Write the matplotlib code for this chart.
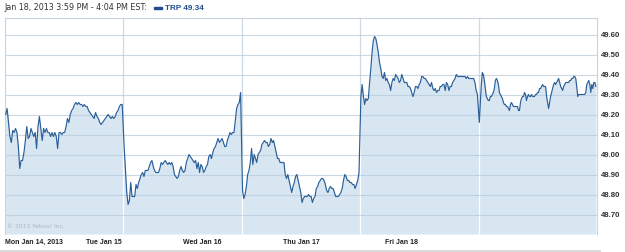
"""Intraday price chart for TRP, week of Jan 14 2013."""

import matplotlib
import numpy as np

matplotlib.use("Agg")
import matplotlib.pyplot as plt

TICKER = "TRP"
LAST_PRICE = "49.34"
HEADER = "Jan 18, 2013 3:59 PM - 4:04 PM EST:"
COPYRIGHT = "\u00a9 2013 Yahoo! Inc."

DAY_LABELS = ["Mon Jan 14, 2013", "Tue Jan 15", "Wed Jan 16", "Thu Jan 17", "Fri Jan 18"]
Y_TICKS = [48.70, 48.80, 48.90, 49.00, 49.10, 49.20, 49.30, 49.40, 49.50, 49.60]

mon_prices = [
    49.20, 49.23, 49.16, 49.09, 49.06, 49.12, 49.11, 49.13, 49.11, 49.04,
    48.93, 48.97, 48.97, 49.01, 49.07, 49.14, 49.08, 49.09, 49.13, 49.11,
    49.09, 49.11, 49.03, 49.14, 49.19, 49.13, 49.07, 49.13, 49.11, 49.13,
    49.11, 49.11, 49.09, 49.11, 49.09, 49.11, 49.09, 49.03, 49.11, 49.11,
    49.10, 49.11, 49.11, 49.14, 49.18, 49.16, 49.20, 49.22, 49.23, 49.25,
    49.26, 49.25, 49.26, 49.25, 49.25, 49.24, 49.25, 49.24, 49.24, 49.22,
    49.21, 49.20, 49.19, 49.18, 49.21, 49.19, 49.18, 49.16, 49.15, 49.16,
    49.17, 49.18, 49.19, 49.20, 49.19, 49.18, 49.19, 49.18, 49.19, 49.21,
    49.22, 49.24, 49.25, 49.25,
]
tue_prices = [
    49.04, 48.92, 48.81, 48.75, 48.77, 48.86, 48.79, 48.79, 48.79, 48.85,
    48.83, 48.86, 48.88, 48.90, 48.91, 48.89, 48.92, 48.92, 48.92, 48.94,
    48.96, 48.97, 48.94, 48.92, 48.91, 48.91, 48.91, 48.93, 48.96, 48.95,
    48.96, 48.97, 48.96, 48.95, 48.96, 48.95, 48.96, 48.94, 48.90, 48.89,
    48.88, 48.89, 48.92, 48.94, 48.92, 48.91, 48.92, 48.96, 48.98, 49.00,
    48.99, 48.98, 48.97, 48.96, 48.97, 48.93, 48.96, 48.91, 48.95, 48.94,
    48.91, 48.92, 48.94, 48.95, 48.99, 49.00, 48.98, 49.01, 49.03, 49.04,
    49.06, 49.08, 49.06, 49.07, 49.08, 49.06, 49.04, 49.04, 49.07, 49.09,
    49.11, 49.10, 49.11, 49.11, 49.17, 49.23, 49.25, 49.26, 49.31,
]
wed_prices = [
    48.82, 48.78, 48.80, 48.84, 48.90, 48.92, 48.96, 49.03, 48.95, 49.00,
    48.98, 48.96, 49.00, 49.01, 49.02, 49.05, 49.06, 49.07, 49.06, 49.06,
    49.04, 49.05, 49.08, 49.06, 49.07, 49.04, 49.01, 48.98, 48.98, 48.96,
    48.96, 48.96, 48.96, 48.90, 48.88, 48.90, 48.87, 48.84, 48.81, 48.84,
    48.86, 48.89, 48.90, 48.87, 48.84, 48.81, 48.76, 48.78, 48.79, 48.79,
    48.79, 48.80, 48.79, 48.79, 48.76, 48.78, 48.79, 48.83, 48.84, 48.86,
    48.87, 48.88, 48.88, 48.87, 48.85, 48.82, 48.81, 48.83, 48.84, 48.83,
    48.83, 48.81, 48.79, 48.79, 48.79, 48.80, 48.81, 48.83, 48.87, 48.90,
    48.89, 48.87, 48.87, 48.86, 48.86, 48.85, 48.85, 48.83, 48.85, 48.87,
    48.91,
]
thu_prices = [
    49.29, 49.35, 49.29, 49.25, 49.28, 49.27, 49.28, 49.36, 49.43, 49.51,
    49.57, 49.59, 49.58, 49.55, 49.51, 49.46, 49.43, 49.39, 49.38, 49.41,
    49.37, 49.38, 49.36, 49.35, 49.32, 49.36, 49.38, 49.37, 49.40, 49.39,
    49.38, 49.36, 49.37, 49.40, 49.38, 49.36, 49.36, 49.36, 49.34, 49.34,
    49.33, 49.31, 49.29, 49.31, 49.34, 49.34, 49.33, 49.35, 49.36, 49.39,
    49.39, 49.38, 49.38, 49.37, 49.36, 49.35, 49.34, 49.36, 49.33, 49.32,
    49.33, 49.31, 49.32, 49.32, 49.34, 49.34, 49.35, 49.35, 49.32, 49.36,
    49.35, 49.32, 49.34, 49.34, 49.36, 49.37, 49.38, 49.40, 49.39, 49.39,
    49.39, 49.39, 49.39, 49.39, 49.39, 49.38, 49.39, 49.38, 49.38, 49.38,
    49.38, 49.38, 49.36, 49.32, 49.30,
]
fri_prices = [
    49.16, 49.26, 49.35, 49.41, 49.40, 49.37, 49.33, 49.29, 49.28, 49.27,
    49.27, 49.29, 49.29, 49.30, 49.31, 49.33, 49.37, 49.38, 49.37, 49.35,
    49.31, 49.30, 49.29, 49.28, 49.26, 49.25, 49.25, 49.24, 49.24, 49.23,
    49.22, 49.25, 49.26, 49.25, 49.24, 49.24, 49.24, 49.24, 49.24, 49.22,
    49.22, 49.26, 49.28, 49.29, 49.29, 49.31, 49.30, 49.27, 49.29, 49.30,
    49.29, 49.29, 49.30, 49.29, 49.29, 49.29, 49.30, 49.30, 49.31, 49.31,
    49.33, 49.33, 49.34, 49.35, 49.34, 49.34, 49.34, 49.29, 49.26, 49.23,
    49.26, 49.29, 49.31, 49.33, 49.35, 49.36, 49.35, 49.36, 49.37, 49.38,
    49.36, 49.34, 49.33, 49.32, 49.34, 49.35, 49.36, 49.36, 49.36, 49.36,
    49.37, 49.37, 49.38, 49.38, 49.39, 49.39, 49.38, 49.34, 49.29, 49.30,
    49.30, 49.30, 49.30, 49.30, 49.30, 49.30, 49.31, 49.35, 49.36, 49.37,
    49.35, 49.31, 49.35, 49.33, 49.36, 49.36, 49.34,
]

LINE_COLOR = "#2a5f9a"
FILL_COLOR = "#d7e6f1"
GRID_COLOR = "#b5cadb"
FRAME_COLOR = "#c8d3dd"
TEXT_COLOR = "#333333"
LABEL_FONT = "Liberation Sans"

W, H = 625, 252


def px_x(x):
    return x / W


def px_y(y):
    return 1 - y / H


days = [mon_prices, tue_prices, wed_prices, thu_prices, fri_prices]
xs = []
ys = []
for i, day in enumerate(days):
    xs.append(np.linspace(i + 0.006, i + 0.99, len(day)))
    ys.append(np.array(day))
x = np.concatenate(xs)
y = np.concatenate(ys)

fig = plt.figure(figsize=(W / 100, H / 100), dpi=100)
ax = fig.add_axes([px_x(5), px_y(234), px_x(592), 216 / H])

y_bottom, y_top = 48.6025, 49.6825
ax.set_xlim(0, 5)
ax.set_ylim(y_bottom, y_top)

# day separators: grey over white, white over the fill
for d in range(1, 5):
    ax.axvline(d, color="#cfd9e2", lw=0.9, zorder=0)
ax.fill_between(x, y_bottom, y, color=FILL_COLOR, lw=0, zorder=1)
for d in range(1, 5):
    ax.vlines(d, y_bottom, np.interp(d, x, y), color="white", lw=0.9, zorder=2)
for t in Y_TICKS:
    ax.axhline(t, color=GRID_COLOR, lw=0.8, alpha=0.7, zorder=2)
ax.plot(x, y, color=LINE_COLOR, lw=0.85, zorder=3)

ax.set_xticks([])
ax.yaxis.tick_right()
ax.set_yticks(Y_TICKS)
ax.set_yticklabels([f"{t:.2f}" for t in Y_TICKS])
ax.tick_params(axis="y", length=0, pad=2.5, labelcolor=TEXT_COLOR)
for lbl in ax.get_yticklabels():
    lbl.set_fontweight("bold")
    lbl.set_fontfamily(LABEL_FONT)
    lbl.set_fontsize(5.7)

for side in ["left", "right", "top"]:
    ax.spines[side].set_color(FRAME_COLOR)
    ax.spines[side].set_linewidth(0.8)
ax.spines["bottom"].set_visible(False)

ax.text(0.004, 0.035, COPYRIGHT, transform=ax.transAxes,
        fontsize=4.3, color="#aab7c2", va="center", ha="left")

# header
fig.text(px_x(4), px_y(8), HEADER, fontsize=5.8, color=TEXT_COLOR, va="center", ha="left")
fig.patches.append(plt.Rectangle((px_x(154), px_y(9.3)), 8 / W, 2.6 / H,
                                 transform=fig.transFigure, color="#1f4f8c"))
fig.text(px_x(165), px_y(8), f"{TICKER} {LAST_PRICE}", fontsize=5.9, color="#1f4f8c",
         fontweight="bold", family=LABEL_FONT, va="center", ha="left")

# day labels below the chart
label_left = [5, 86, 183, 283, 385]
for lx, name in zip(label_left, DAY_LABELS):
    fig.text(px_x(lx), px_y(242), name, fontsize=5.0, color="#222222",
             fontweight="bold", family=LABEL_FONT, va="center", ha="left")

fig.add_artist(plt.Line2D([0, px_x(600)], [px_y(250.5), px_y(250.5)],
                          transform=fig.transFigure, color="#dadada", lw=1.5))

fig.savefig("out.png", dpi=100)
plt.close(fig)
